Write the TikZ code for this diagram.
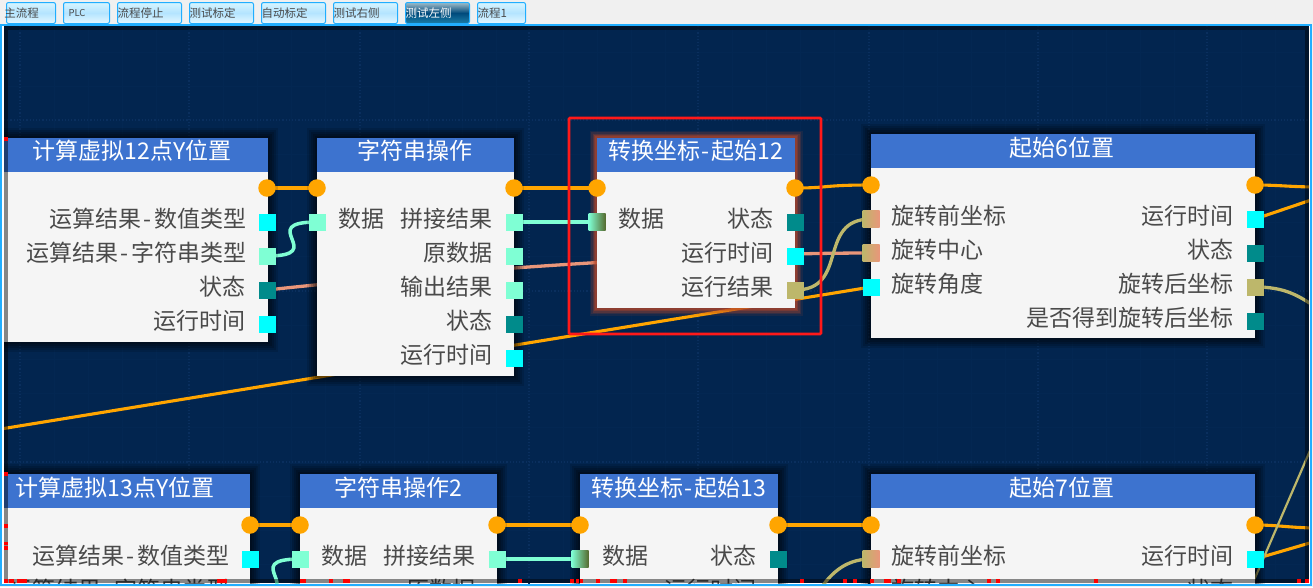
\documentclass[tikz,border=0pt]{standalone}
\usepackage{fontspec}
\setmainfont{Noto Sans CJK SC}
\usetikzlibrary{backgrounds}
\pgfdeclarelayer{back}\pgfdeclarelayer{edges}\pgfdeclarelayer{top}
\pgfsetlayers{back,edges,main,top}
\definecolor{navy}{HTML}{02254F}
\definecolor{outerbg}{HTML}{F0F0F0}
\definecolor{gridmin}{HTML}{032752}
\definecolor{gridmaj}{HTML}{0A2F5E}
\definecolor{frameblue}{HTML}{21AEFF}
\definecolor{head}{HTML}{3D73CF}
\definecolor{bodyc}{HTML}{F5F5F5}
\definecolor{txt}{HTML}{4A4A4A}
\definecolor{flow}{HTML}{FFA500}
\definecolor{aqua}{HTML}{7FFFD4}
\definecolor{cyanp}{HTML}{00FFFF}
\definecolor{tealp}{HTML}{008B8B}
\definecolor{khaki}{HTML}{BDB76B}
\definecolor{salmon}{HTML}{E9967A}
\definecolor{olive}{HTML}{556B2F}
\definecolor{glowc}{HTML}{B5462A}
\definecolor{tabtop}{HTML}{D6F5FF}
\definecolor{tabmid}{HTML}{B4E4FF}
\definecolor{tabbot}{HTML}{E6F8FF}
\definecolor{ontop}{HTML}{A0BCC8}
\definecolor{onmid}{HTML}{004A7C}
\definecolor{onbot}{HTML}{1C7FA8}
\newcommand{\hy}{\kern1.6pt-\kern1.6pt}
\newcommand{\hyl}{\kern2.5pt-\kern2.5pt}
\tikzset{
  x=1pt,y=-1pt,
  tabbox/.style={draw=frameblue,line width=1pt,rounded corners=2pt,inner sep=0pt,anchor=north west,
    minimum height=21pt,text width=#1,align=left,text=txt,font=\fontsize{11.5}{12}\selectfont,
    top color=tabtop,bottom color=tabbot,middle color=tabmid},
  tabon/.style={text=white,top color=ontop,bottom color=onbot,middle color=onmid,draw=frameblue},
  panelbody/.style={fill=bodyc,inner sep=0pt,anchor=north west,
    preaction={draw=black,opacity=.12,line width=20pt},
    preaction={draw=black,opacity=.14,line width=16pt},
    preaction={draw=black,opacity=.16,line width=12pt},
    preaction={draw=black,opacity=.18,line width=8pt},
    preaction={draw=black,opacity=.2,line width=4pt}},
  panelglow/.style={fill=bodyc,inner sep=0pt,anchor=north west,
    preaction={draw=glowc,opacity=.12,line width=15pt},
    preaction={draw=glowc,opacity=.18,line width=12pt},
    preaction={draw=glowc,opacity=.25,line width=9pt},
    preaction={draw=glowc,opacity=.35,line width=6pt},
    preaction={draw=glowc,opacity=.4,line width=3.5pt}},
  panelhead/.style={fill=head,inner sep=0pt,anchor=north west,minimum height=34pt},
  ttl/.style={text=white,inner sep=0pt,font=\fontsize{23}{24}\selectfont},
  lbl/.style={text=txt,inner sep=0pt,font=\fontsize{23}{24}\selectfont},
  lr/.style={lbl,anchor=east},
  ll/.style={lbl,anchor=west},
  pexec/.style={circle,fill=flow,minimum size=17.5pt,inner sep=0pt},
  psq/.style={rectangle,fill=#1,minimum size=17pt,inner sep=0pt},
  pgrad/.style 2 args={rectangle,left color=#1,right color=#2,minimum size=17pt,inner sep=0pt},
  eflow/.style={draw=flow,line width=3.1pt},
  eaqua/.style={draw=aqua,line width=3.5pt},
  ekhaki/.style={draw=khaki,line width=3.3pt},
  esalmon/.style={draw=salmon,line width=3.3pt},
  strip/.style={fill=black,opacity=.45,draw=none},
  tick/.style={fill=red,draw=none},
  hilite/.style={draw=red!90!white,line width=2.6pt,rounded corners=1pt},
}
\begin{document}
\begin{tikzpicture}
\useasboundingbox (0,0) rectangle (1313,587);
\begin{pgfonlayer}{back}
  \fill[outerbg] (0,0) rectangle (1313,587);
  \fill[white] (0,24) rectangle (1312,586);
  \draw[frameblue,line width=1.6pt] (.8,25) rectangle (1311.2,585);
  \fill[navy] (4,26) rectangle (1309,583);
  \begin{scope}
    \clip (4,26) rectangle (1309,583);
    \foreach \g in {54,88,122,156,223,257,291,325,394,428,462,496,563,597,631,665,732,766,800,834,903,937,971,1005,1072,1106,1140,1174,1241,1275}
      \draw[gridmin,line width=.8pt] (\g,26) -- (\g,583);
    \foreach \g in {52,86,154,188,222,256,325,359,393,427,496,530,564}
      \draw[gridmin,line width=.8pt] (4,\g) -- (1309,\g);
    \foreach \g in {20,189,360,529,698,869,1038,1207}
      \draw[gridmaj,line width=1.2pt,dotted] (\g,26) -- (\g,583);
    \foreach \g in {120,291,462}
      \draw[gridmaj,line width=1.2pt,dotted] (4,\g) -- (1309,\g);
  \end{scope}
\end{pgfonlayer}

% tabs
\node[tabbox=49pt] (tab1) at (6,2) {\hspace{-2pt}主流程};
\node[tabbox=46pt] (tab2) at (63,2) {\hspace{5pt}\fontsize{9.5}{12}\selectfont PLC};
\node[tabbox=64pt] (tab3) at (117,2) {流程停止};
\node[tabbox=64pt] (tab4) at (189,2) {测试标定};
\node[tabbox=64pt] (tab5) at (261,2) {自动标定};
\node[tabbox=64pt] (tab6) at (333,2) {测试右侧};
\node[tabbox=64pt,tabon] (tab7) at (405,2) {测试左侧};
\node[tabbox=48pt] (tab8) at (477,2) {流程1};

\begin{scope}
\clip (4,26) rectangle (1309,583);
% previous, off-picture port
\node[pexec] (n0e) at (-1,188) {};
% panels
\node[panelbody,minimum width=272pt,minimum height=204pt] (n1) at (-4,138) {};
\node[panelhead,minimum width=272pt] (n1h) at (-4,138) {};
\node[ttl] (n1t) at (132,150.5) {计算虚拟12点Y位置};
\node[panelbody,minimum width=197pt,minimum height=238pt] (n2) at (317,138) {};
\node[panelhead,minimum width=197pt] (n2h) at (317,138) {};
\node[ttl] (n2t) at (415,150.5) {字符串操作};
\node[panelglow,minimum width=198pt,minimum height=170pt] (n3) at (597,138) {};
\node[panelhead,minimum width=198pt] (n3h) at (597,138) {};
\node[ttl] (n3t) at (695.5,150.5) {转换坐标\hy 起始12};
\node[panelbody,minimum width=384pt,minimum height=204pt] (n4) at (871,134) {};
\node[panelhead,minimum width=384pt] (n4h) at (871,134) {};
\node[ttl] (n4t) at (1062,147.5) {起始6位置};
\node[panelbody,minimum width=270pt,minimum height=130pt] (n5) at (-20,474) {};
\node[panelhead,minimum width=270pt] (n5h) at (-20,474) {};
\node[ttl] (n5t) at (115,487.5) {计算虚拟13点Y位置};
\node[panelbody,minimum width=197pt,minimum height=130pt] (n6) at (300,474) {};
\node[panelhead,minimum width=197pt] (n6h) at (300,474) {};
\node[ttl] (n6t) at (398,487.5) {字符串操作2};
\node[panelbody,minimum width=198pt,minimum height=130pt] (n7) at (580,474) {};
\node[panelhead,minimum width=198pt] (n7h) at (580,474) {};
\node[ttl] (n7t) at (678.5,487.5) {转换坐标\hy 起始13};
\node[panelbody,minimum width=384pt,minimum height=130pt] (n8) at (871,474) {};
\node[panelhead,minimum width=384pt] (n8h) at (871,474) {};
\node[ttl] (n8t) at (1062,487.5) {起始7位置};

% labels
\node[lr] (l11) at (246.5,219) {运算结果\hyl 数值类型};
\node[lr] (l12) at (246.5,253) {运算结果\hyl 字符串类型};
\node[lr] (l13) at (246,287) {状态};
\node[lr] (l14) at (246,321) {运行时间};
\node[ll] (l20) at (338,219) {数据};
\node[lr] (l21) at (493,219) {拼接结果};
\node[lr] (l22) at (493,253) {原数据};
\node[lr] (l23) at (493,287) {输出结果};
\node[lr] (l24) at (493,321) {状态};
\node[lr] (l25) at (493,355) {运行时间};
\node[ll] (l30) at (618,219) {数据};
\node[lr] (l31) at (774,219) {状态};
\node[lr] (l32) at (774,253) {运行时间};
\node[lr] (l33) at (774,287) {运行结果};
\node[ll] (l40) at (891,216) {旋转前坐标};
\node[ll] (l41) at (891,250) {旋转中心};
\node[ll] (l42) at (891,284) {旋转角度};
\node[lr] (l43) at (1234,216) {运行时间};
\node[lr] (l44) at (1234,250) {状态};
\node[lr] (l45) at (1234,284) {旋转后坐标};
\node[lr] (l46) at (1234,318) {是否得到旋转后坐标};
\node[lr] (l51) at (229.5,556) {运算结果\hyl 数值类型};
\node[lr] (l52) at (229.5,590) {运算结果\hyl 字符串类型};
\node[ll] (l60) at (321,556) {数据};
\node[lr] (l61) at (476,556) {拼接结果};
\node[lr] (l62) at (476,590) {原数据};
\node[ll] (l70) at (602,556) {数据};
\node[lr] (l71) at (757,556) {状态};
\node[lr] (l72) at (757,590) {运行时间};
\node[ll] (l80) at (891,556) {旋转前坐标};
\node[ll] (l81) at (891,590) {旋转中心};
\node[lr] (l82) at (1234,556) {运行时间};
\node[lr] (l83) at (1234,590) {状态};

% ports
\node[pexec] (n1e) at (267,188) {};
\node[psq=cyanp] (n1a) at (267,222) {};
\node[psq=aqua] (n1b) at (267,256) {};
\node[psq=tealp] (n1c) at (267,290) {};
\node[psq=cyanp] (n1d) at (267,324) {};
\node[pexec] (n2i) at (317,188) {};
\node[psq=aqua] (n2in) at (317,222) {};
\node[pexec] (n2e) at (514,188) {};
\node[psq=aqua] (n2a) at (514,222) {};
\node[psq=aqua] (n2b) at (514,256) {};
\node[psq=aqua] (n2c) at (514,290) {};
\node[psq=tealp] (n2d) at (514,324) {};
\node[psq=cyanp] (n2f) at (514,358) {};
\node[pexec] (n3i) at (597,188) {};
\node[pgrad={aqua}{olive}] (n3in) at (597,222) {};
\node[pexec] (n3e) at (795,188) {};
\node[psq=tealp] (n3a) at (795,222) {};
\node[psq=cyanp] (n3b) at (795,256) {};
\node[psq=khaki] (n3c) at (795,290) {};
\node[pexec] (n4i) at (871,185) {};
\node[pgrad={khaki}{salmon}] (n4p) at (871,219) {};
\node[pgrad={khaki}{salmon}] (n4q) at (871,253) {};
\node[psq=cyanp] (n4r) at (871,287) {};
\node[pexec] (n4e) at (1255,185) {};
\node[psq=cyanp] (n4a) at (1255,219) {};
\node[psq=tealp] (n4b) at (1255,253) {};
\node[psq=khaki] (n4c) at (1255,287) {};
\node[psq=tealp] (n4d) at (1255,321) {};
\node[pexec] (n5e) at (250,525) {};
\node[psq=cyanp] (n5a) at (250,559) {};
\node[pexec] (n6i) at (300,525) {};
\node[psq=aqua] (n6in) at (300,559) {};
\node[pexec] (n6e) at (497,525) {};
\node[psq=aqua] (n6a) at (497,559) {};
\node[pexec] (n7i) at (580,525) {};
\node[pgrad={aqua}{olive}] (n7in) at (580,559) {};
\node[pexec] (n7e) at (778,525) {};
\node[psq=tealp] (n7a) at (778,559) {};
\node[pexec] (n8i) at (871,525) {};
\node[pgrad={khaki}{salmon}] (n8p) at (871,559) {};
\node[pexec] (n8e) at (1255,525) {};
\node[psq=cyanp] (n8a) at (1255,559) {};
\end{scope}

% free ends of connectors
\coordinate (xa) at (-30,434);
\coordinate (xb) at (1320,187);
\coordinate (xc) at (1320,197);
\coordinate (xd) at (1320,310);
\coordinate (xe) at (1320,528);
\coordinate (xf) at (1320,540);
\coordinate (xg) at (1248,594);
\coordinate (xh) at (1312,446);
\coordinate (xi) at (250,593);
\coordinate (xj) at (778,627);

\begin{pgfonlayer}{edges}
\begin{scope}
  \clip (4,26) rectangle (1309,583);
  \draw[eflow] (n1e.center) -- (n2i.center);
  \draw[eflow] (n2e.center) -- (n3i.center);
  \draw[eflow] (n3e.center) .. controls (830,188) and (822,185) .. (n4i.center);
  \draw[eflow] (n4e.center) .. controls (1280,185) and (1290,187) .. (xb);
  \draw[eflow] (n4a.center) -- (xc);
  \draw[eflow] (xa) -- (n4r.center);
  \draw[eaqua] (n1b.center) .. controls (330,256) and (254,222) .. (n2in.center);
  \draw[eaqua] (n2a.center) -- (n3in.center);
  \draw[esalmon] (n1c.center) .. controls (450,270) and (700,253) .. (n4q.center);
  \draw[ekhaki] (n3c.center) .. controls (850,290) and (816,219) .. (n4p.center);
  \draw[ekhaki] (n4c.center) .. controls (1285,287) and (1298,295) .. (xd);
  \draw[eflow] (n5e.center) -- (n6i.center);
  \draw[eflow] (n6e.center) -- (n7i.center);
  \draw[eflow] (n7e.center) -- (n8i.center);
  \draw[eflow] (n8e.center) .. controls (1280,525) and (1290,528) .. (xe);
  \draw[eflow] (n8a.center) -- (xf);
  \draw[eaqua] (xi) .. controls (313,593) and (237,559) .. (n6in.center);
  \draw[eaqua] (n6a.center) -- (n7in.center);
  \draw[ekhaki] (xj) .. controls (815,627) and (815,559) .. (n8p.center);
  \draw[ekhaki,line width=2.2pt] (xg) -- (xh);
\end{scope}
\end{pgfonlayer}

\begin{pgfonlayer}{top}
  % translucent scroll-bar strips
  \fill[strip] (4,26) rectangle (8,583);
  \fill[strip] (8,26) rectangle (1305,30);
  \fill[strip] (1305,26) rectangle (1309,583);
  \fill[strip] (8,579) rectangle (1305,583);
  % red ticks on the strips
  \foreach \y/\h in {137/4,472/4,524/4,542/3,546/4,579/4}
    \fill[tick] (4,\y) rectangle (8,\y+\h);
  \foreach \a/\b in {9/14,17/27,217/227,300/306,329/333,343/350,518/522,570/574,576/579,580/583,596/600,610/617,623/627,800/804,843/847,853/857,870/874,884/891,897/901,987/991,996/1000,1094/1098,1297/1301,1305/1309}
    \fill[tick] (\a,579) rectangle (\b,583);
  \draw[hilite] (569,118) rectangle (821,334);
\end{pgfonlayer}
\end{tikzpicture}
\end{document}
